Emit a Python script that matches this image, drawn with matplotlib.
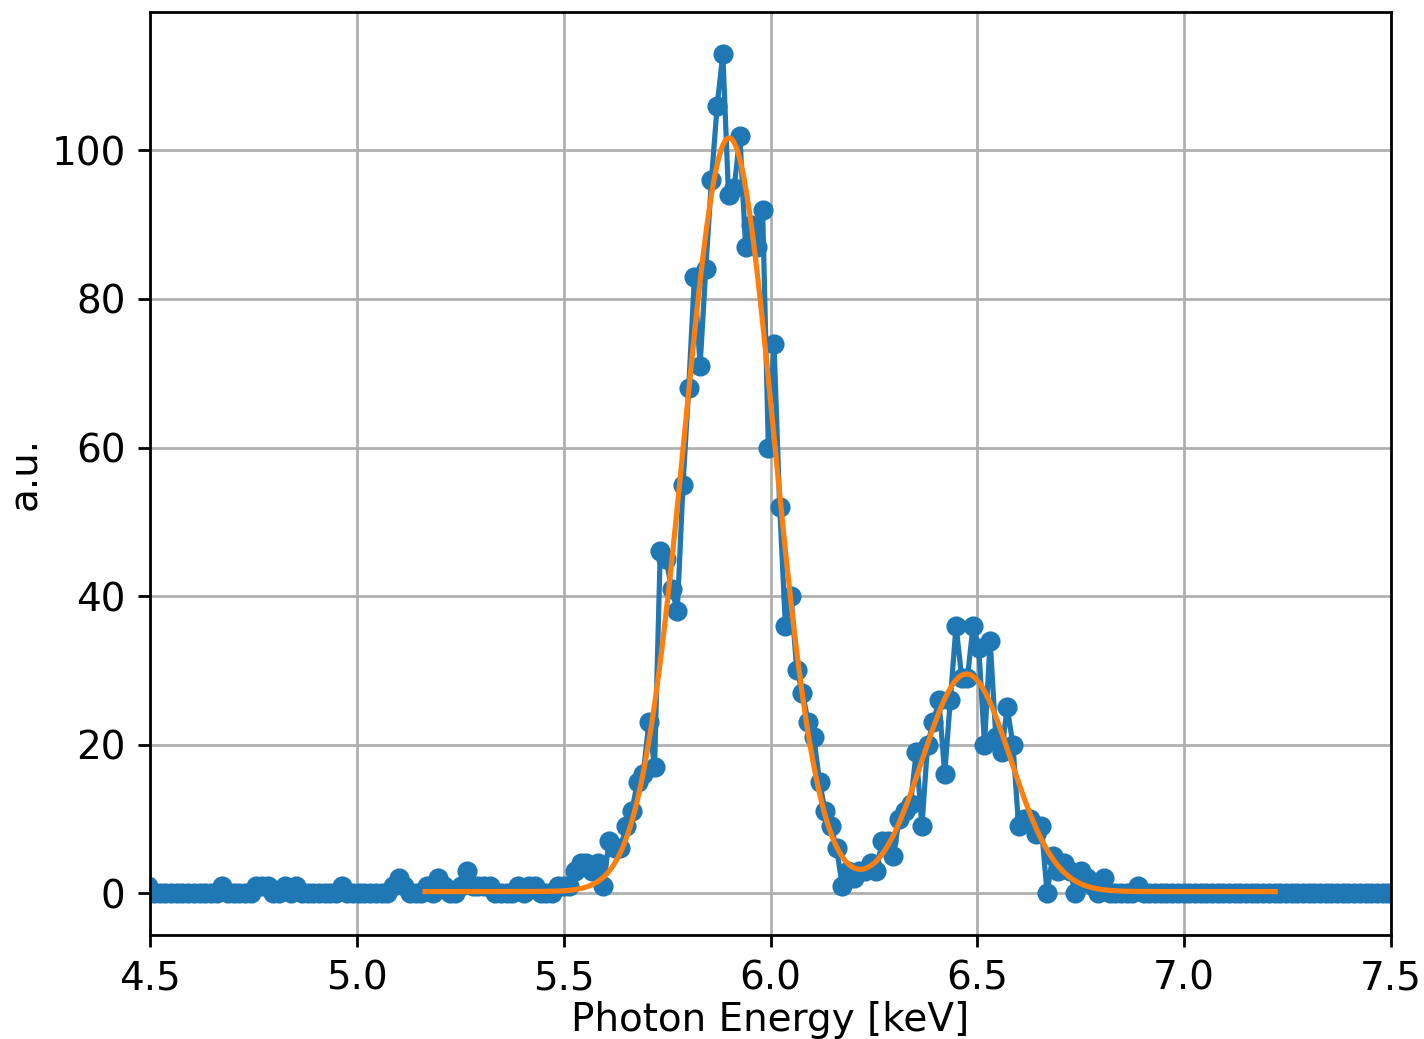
import numpy as np
import matplotlib
matplotlib.use("Agg")
import matplotlib.pyplot as plt

# Spectrum bins (regular energy grid, keV)
energy_start = 4.496
energy_step = 0.01375
counts = [
    1, 0, 0, 0, 0, 0, 0, 0, 0, 0, 0, 0, 0, 1, 0, 0, 0, 0, 0, 1,
    1, 1, 0, 0, 1, 0, 1, 0, 0, 0, 0, 0, 0, 0, 1, 0, 0, 0, 0, 0,
    0, 0, 0, 1, 2, 1, 0, 0, 0, 1, 0, 2, 1, 0, 0, 1, 3, 1, 1, 1,
    1, 0, 0, 0, 0, 1, 0, 1, 1, 0, 0, 0, 1, 1, 1, 3, 4, 4, 3, 4,
    1, 7, 6, 6, 9, 11, 15, 16, 23, 17, 46, 45, 41, 38, 55, 68, 83, 71, 84, 96,
    106, 113, 94, 95, 102, 87, 90, 87, 92, 60, 74, 52, 36, 40, 30, 27, 23, 21, 15, 11,
    9, 6, 1, 3, 2, 3, 3, 4, 3, 7, 7, 5, 10, 11, 12, 19, 9, 20, 23, 26,
    16, 26, 36, 29, 29, 36, 33, 20, 34, 21, 19, 25, 20, 9, 10, 10, 8, 9, 0, 5,
    3, 4, 3, 0, 3, 2, 1, 0, 2, 0, 0, 0, 0, 0, 1, 0, 0, 0, 0, 0,
    0, 0, 0, 0, 0, 0, 0, 0, 0, 0, 0, 0, 0, 0, 0, 0, 0, 0, 0, 0,
    0, 0, 0, 0, 0, 0, 0, 0, 0, 0, 0, 0, 0, 0, 0, 0, 0, 0, 0,
]
energy = energy_start + energy_step * np.arange(len(counts))

# Double-Gaussian fit parameters
fit_range = (5.165, 7.22)
fit_amp1, fit_mu1, fit_sigma1 = 101.5, 5.900, 0.108
fit_amp2, fit_mu2, fit_sigma2 = 29.3, 6.474, 0.107
fit_offset = 0.2

fit_x = np.linspace(fit_range[0], fit_range[1], 600)
fit_y = (fit_amp1 * np.exp(-0.5 * ((fit_x - fit_mu1) / fit_sigma1) ** 2)
         + fit_amp2 * np.exp(-0.5 * ((fit_x - fit_mu2) / fit_sigma2) ** 2)
         + fit_offset)

x_ticks = [4.5, 5.0, 5.5, 6.0, 6.5, 7.0, 7.5]

plt.rcParams["font.size"] = 11.2

W, H, DPI = 1424, 1039, 250
fig = plt.figure(figsize=(W / DPI, H / DPI), dpi=DPI)
ax = fig.add_axes([150 / W, 1 - 935 / H, (1391 - 150) / W, (935 - 12) / H])

ax.plot(energy, counts, "o-", color="tab:blue", markersize=4.8, linewidth=1.5)
ax.plot(fit_x, fit_y, "-", color="tab:orange", linewidth=1.5)

ax.set_xlim(4.5, 7.5)
ax.set_xticks(x_ticks)
ax.set_xlabel("Photon Energy [keV]", labelpad=1)
ax.set_ylabel("a.u.", labelpad=2.5)
ax.grid(True)

fig.savefig("out.png", dpi=DPI)
